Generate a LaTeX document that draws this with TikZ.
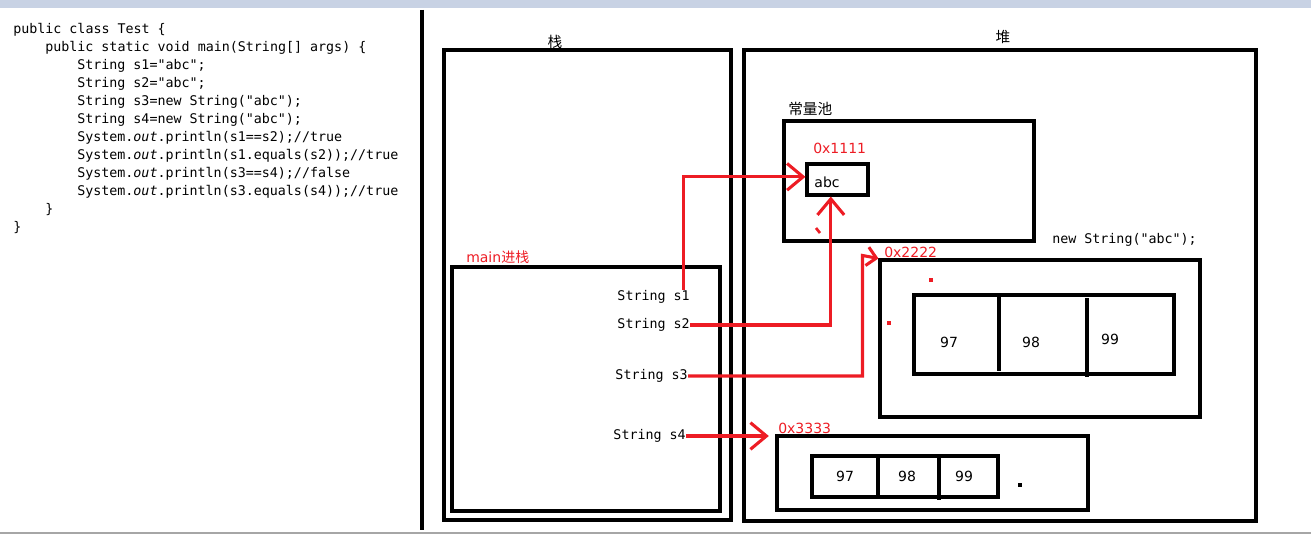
\documentclass[tikz,border=0pt]{standalone}
\usepackage{fontspec}
\setmainfont{DejaVu Sans}
\setmonofont{DejaVu Sans Mono}
\newfontfamily\cjkfont{Noto Sans CJK SC}
\usetikzlibrary{arrows.meta, positioning, calc, fit}
\definecolor{paintred}{RGB}{237,28,36}
\definecolor{barblue}{RGB}{200,210,228}
\tikzset{
    box/.style = {draw=black, line width=2.3pt, inner sep=0pt},
    divider/.style = {draw=black, line width=2.3pt},
    codeblock/.style = {font=\ttfamily\fontsize{10pt}{13.5pt}\selectfont, align=left, inner sep=0pt},
    var/.style = {font=\ttfamily\fontsize{10pt}{12pt}\selectfont, inner sep=0pt, anchor=east},
    addr/.style = {font=\fontsize{10.5pt}{12pt}\selectfont, text=paintred, inner sep=0pt, anchor=west},
    heading/.style = {font=\cjkfont\fontsize{11pt}{13pt}\selectfont, inner sep=0pt},
    num/.style = {font=\fontsize{10.5pt}{12pt}\selectfont, inner sep=0pt},
    ref/.style = {draw=paintred, line width=2.3pt, -{Straight Barb[length=12pt, width=20pt]}}
}

\begin{document}
\begin{tikzpicture}[x=0.75pt, y=-0.75pt]
\useasboundingbox (0,0) rectangle (1311,535);

% --- WINDOW FRAME ---
\fill[barblue] (0,0) rectangle (1311,8);
\draw[black!35, line width=1pt] (0,533) -- (1311,533);
\draw[divider] (422,10) -- (422,530);

% --- SOURCE CODE ---
\node[codeblock, anchor=north west] (code) at (13,23) {public class Test \{\\
\hspace*{24pt}public static void main(String[] args) \{\\
\hspace*{48pt}String s1="abc";\\
\hspace*{48pt}String s2="abc";\\
\hspace*{48pt}String s3=new String("abc");\\
\hspace*{48pt}String s4=new String("abc");\\
\hspace*{48pt}System.\textit{out}.println(s1==s2);//true\\
\hspace*{48pt}System.\textit{out}.println(s1.equals(s2));//true\\
\hspace*{48pt}System.\textit{out}.println(s3==s4);//false\\
\hspace*{48pt}System.\textit{out}.println(s3.equals(s4));//true\\
\hspace*{24pt}\}\\
\}};

% --- STACK ---
\node[heading] (stacklbl) at (555,42) {栈};
\node[box, fit={(444,50) (731,520)}] (stack) {};
\node[addr] (mainlbl) at (466,257) {main{\cjkfont 进栈}};
\node[box, fit={(452,267) (720,511)}] (mainframe) {};
\node[var] (s1) at (690,297) {String s1};
\node[var] (s2) at (690,325) {String s2};
\node[var] (s3) at (688,376) {String s3};
\node[var] (s4) at (686,436) {String s4};

% --- HEAP ---
\node[heading] (heaplbl) at (1003,37) {堆};
\node[box, fit={(744,50) (1256,521)}] (heap) {};

% constant pool
\node[heading, anchor=west] (poollbl) at (788,109) {常量池};
\node[box, fit={(784,121) (1034,241)}] (pool) {};
\node[addr] (addr1) at (813,148) {0x1111};
\node[box, fit={(807,164) (868,195)}] (abc) {};
\node[num] (abctxt) at (827,182) {abc};

% new String("abc") object
\node[font=\ttfamily\fontsize{10pt}{12pt}\selectfont, inner sep=0pt, anchor=west] (newtxt) at (1052,240) {new String("abc");};
\node[addr] (addr2) at (884,252) {0x2222};
\node[box, fit={(880,260) (1200,417)}] (obj2) {};
\node[box, fit={(914,295) (1174,374)}] (arr2) {};
\draw[divider] (999,297) -- (999,371);
\draw[divider] (1087,298) -- (1087,377);
\node[num] (a2c1) at (949,342) {97};
\node[num] (a2c2) at (1031,342) {98};
\node[num] (a2c3) at (1110,339) {99};

% second new String("abc") object
\node[addr] (addr3) at (778,428) {0x3333};
\node[box, fit={(777,436) (1088,510)}] (obj3) {};
\node[box, fit={(812,456) (998,497)}] (arr3) {};
\draw[divider] (878,456) -- (878,497);
\draw[divider] (939,458) -- (939,500);
\node[num] (a3c1) at (845,476) {97};
\node[num] (a3c2) at (907,476) {98};
\node[num] (a3c3) at (964,476) {99};

% stray marks
\draw[paintred, line width=2pt] (816,228) -- (820,233);
\fill[paintred] (929,278) rectangle (933,282);
\fill[paintred] (887,321) rectangle (891,325);
\fill[black] (1018,483) rectangle (1022,487);

% --- REFERENCES ---
\draw[ref] ([xshift=-5pt]s1.north east) |- ([yshift=2pt]abc.west);
\draw[ref] (s2.east) -| ([xshift=-5pt]abc.south);
\draw[ref, -{Straight Barb[length=7pt, width=14pt]}] (s3.east) -| ($(obj2.north west)+(-16,-3)$) -- (obj2.north west);
\draw[ref, shorten >=5pt] (s4.east) -- (s4.east -| obj3.west);

\end{tikzpicture}
\end{document}
